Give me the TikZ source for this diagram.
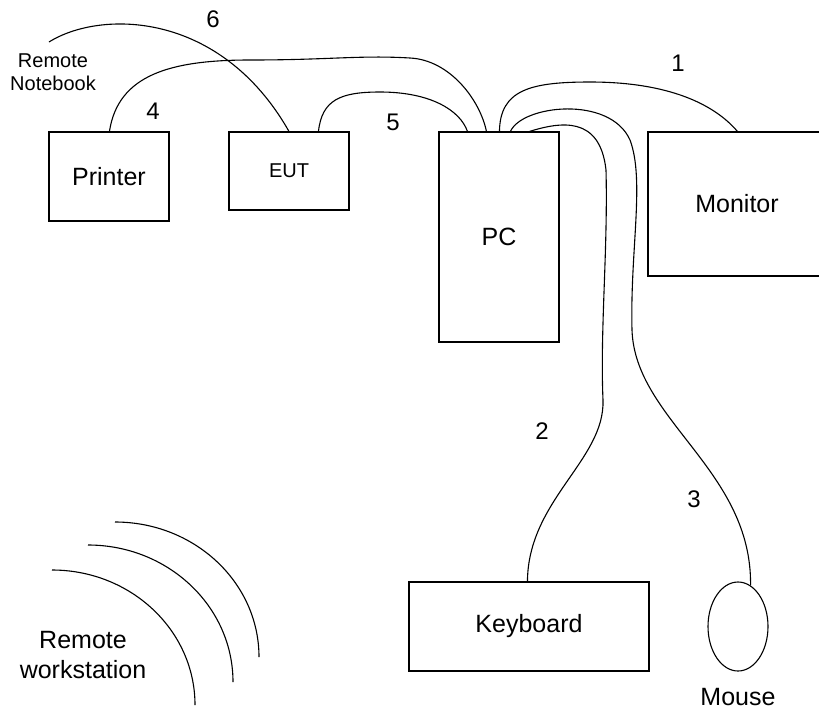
\documentclass[tikz,border=0pt]{standalone}
\usepackage{fontspec}
\setmainfont{Liberation Sans}
\usetikzlibrary{shapes.geometric,calc}
\tikzset{
  box/.style={draw, rectangle, inner sep=0pt, line width=1.1pt, font=\fontsize{25}{28}\selectfont},
  smallbox/.style={box, font=\fontsize{20}{23}\selectfont},
  cable/.style={line width=1.1pt},
  num/.style={inner sep=0pt, font=\fontsize{24}{27}\selectfont},
  lbl/.style={inner sep=0pt, align=center, font=\fontsize{25}{30}\selectfont},
  smalllbl/.style={inner sep=0pt, align=center, font=\fontsize{20}{23}\selectfont},
  wave/.style={line width=1.1pt}
}
\begin{document}
\begin{tikzpicture}[x=1pt,y=-1pt]
\useasboundingbox (0,0) rectangle (819,713);
\begin{scope}
\clip (0,0) rectangle (819,713);
\node[box, minimum width=120pt, minimum height=89pt] (printer) at (109,176.5) {Printer};
\node[smallbox, minimum width=120pt, minimum height=78pt] (eut) at (289,171) {EUT};
\node[box, minimum width=120pt, minimum height=210pt] (pc) at (499,237) {PC};
\node[box, minimum width=178pt, minimum height=144pt] (monitor) at (737,204) {Monitor};
\node[box, minimum width=240pt, minimum height=89pt] (keyboard) at (529,626.5) {Keyboard};
\node[draw, ellipse, line width=1.1pt, inner sep=0pt, minimum width=60pt, minimum height=89pt] (mouse) at (738,626.5) {};
\node[lbl] (mouselbl) at (738,697) {Mouse};
\node[smalllbl] (notebook) at (53,72) {Remote\\Notebook};
\node[lbl] (ws) at (83,655) {Remote\\workstation};
\coordinate (nb) at (49,42);

\node[num] (n1) at (678,63) {1};
\node[num] (n2) at (542,431) {2};
\node[num] (n3) at (694,499) {3};
\node[num] (n4) at (153,111) {4};
\node[num] (n5) at (393,122) {5};
\node[num] (n6) at (213,19) {6};

% cable 6: remote notebook -> EUT
\draw[cable] (nb) .. controls (100,10) and (220,10) .. (eut.north);
% cable 4: printer -> PC
\draw[cable] ($(printer.north west)+(61,0)$) .. controls (118,75) and (170,60) .. (250,60)
  .. controls (330,60) and (360,55) .. (410,58)
  .. controls (450,60) and (480,100) .. ($(pc.north west)+(48,0)$);
% cable 5: EUT -> PC
\draw[cable] ($(eut.north west)+(90,0)$) .. controls (322,100) and (340,92) .. (380,92)
  .. controls (430,92) and (460,110) .. ($(pc.north west)+(29,0)$);
% cable 1: PC -> monitor
\draw[cable] ($(pc.north west)+(61,0)$) .. controls (500,90) and (530,82) .. (590,82)
  .. controls (670,82) and (715,105) .. ($(monitor.north west)+(90,0)$);
% cable 3: PC -> mouse
\draw[cable] ($(pc.north west)+(72,0)$) .. controls (522,105) and (610,95) .. (630,140)
  .. controls (645,180) and (630,250) .. (632,330)
  .. controls (635,420) and (752,470) .. (mouse.73);
% cable 2: PC -> keyboard
\draw[cable] ($(pc.north west)+(91,0)$) .. controls (560,122) and (600,115) .. (606,170)
  .. controls (608,250) and (600,330) .. (603,400)
  .. controls (605,460) and (528,500) .. ($(keyboard.north west)+(119,0)$);

% wireless waves
\draw[wave] (52,570) arc[start angle=90, end angle=0, x radius=143pt, y radius=135pt];
\draw[wave] (88,545) arc[start angle=90, end angle=0, x radius=145pt, y radius=137pt];
\draw[wave] (115,522) arc[start angle=90, end angle=0, x radius=144pt, y radius=135pt];
\end{scope}
\end{tikzpicture}
\end{document}
